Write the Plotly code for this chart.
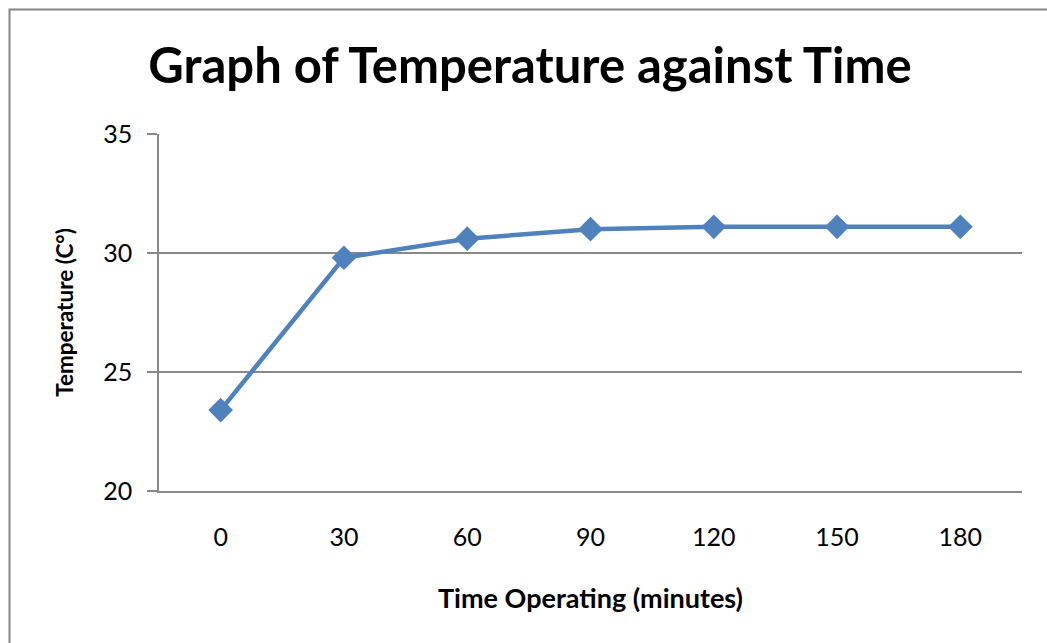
import plotly.graph_objects as go

time_labels = ["0", "30", "60", "90", "120", "150", "180"]
temperature = [23.4, 29.8, 30.6, 31.0, 31.1, 31.1, 31.1]
y_ticks = [20, 25, 30, 35]

W, H = 1047, 643
L, R, T, B = 159, 25, 134, 152
pw, ph = W - L - R, H - T - B

def px_x(px):
    return (px - L) / pw

def px_y(py):
    return (H - B - py) / ph

FONT = "Lato"
LINE = "#4F81BD"
GRID = "#888888"

fig = go.Figure()
fig.add_trace(go.Scatter(
    x=time_labels, y=temperature, mode="lines+markers",
    line=dict(color=LINE, width=4.5),
    marker=dict(symbol="diamond", size=19, color=LINE),
    showlegend=False, cliponaxis=False,
))

fig.update_layout(
    width=W, height=H,
    margin=dict(l=L, r=R, t=T, b=B, autoexpand=False),
    paper_bgcolor="white", plot_bgcolor="white",
    title=dict(text="<b>Graph of Temperature against Time</b>",
               font=dict(family=FONT, size=49, color="black"),
               xref="paper", x=px_x(530), xanchor="center",
               yref="container", y=1 - 66 / H, yanchor="middle"),
    xaxis=dict(
        type="category", range=[-0.5, 6.5],
        showgrid=False, showline=True, linecolor=GRID, linewidth=1.5,
        ticks="", tickfont=dict(family=FONT, size=25, color="black"),
        ticklabelstandoff=23,
        title=dict(text="<b>Time Operating (minutes)</b>",
                   font=dict(family=FONT, size=27, color="black"), standoff=39),
        zeroline=False,
    ),
    yaxis=dict(
        range=[20, 35], tickvals=y_ticks, ticktext=[str(v) for v in y_ticks],
        showgrid=True, gridcolor=GRID, gridwidth=1.5,
        showline=True, linecolor=GRID, linewidth=1.5,
        ticks="outside", ticklen=10, tickcolor=GRID, tickwidth=1.5,
        tickfont=dict(family=FONT, size=25, color="black"),
        ticklabelstandoff=10,
        title=dict(text="<b>Temperature (C°)</b>",
                   font=dict(family=FONT, size=22.5, color="black"), standoff=23),
        zeroline=False,
    ),
    shapes=[dict(type="rect", xref="paper", yref="paper",
                 x0=px_x(9.5), x1=px_x(1200), y0=px_y(900), y1=px_y(9.5),
                 line=dict(color="#868686", width=2), fillcolor="rgba(0,0,0,0)",
                 layer="below")],
)

fig.write_html("out.html")
